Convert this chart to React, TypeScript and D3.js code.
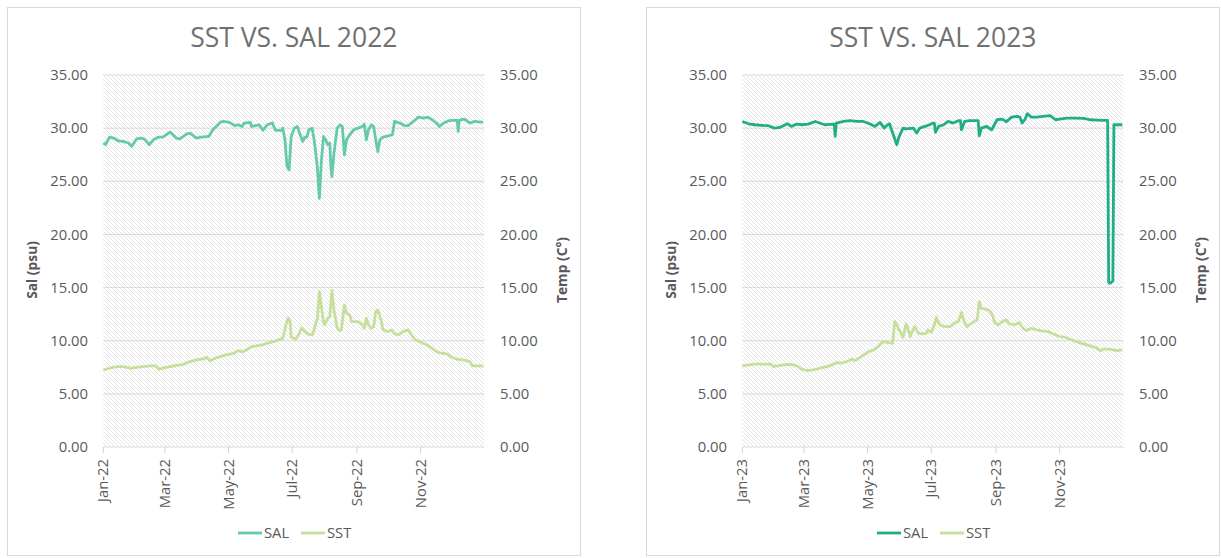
import React from 'react';
import * as d3 from 'd3';

// ---- data (day offset from Jan 1, value) ----
const sal2022Day = [0,2,6,10,14,19,24,27,32,37,40,44,48,53,57,64,70,73,80,83,89,94,101,105,112,115,121,126,129,133,135,141,142,147,149,153,157,162,165,171,172,174,176,178,180,183,186,188,191,193,195,197,200,202,203,205,207,209,211,213,215,217,218,219,221,224,227,229,231,233,236,240,244,248,250,252,254,257,259,261,263,265,268,273,277,279,284,289,292,295,299,302,307,311,315,319,322,326,331,335,339,340,341,345,348,351,356,361,364];
const sal2022 = [28.6,28.44,29.16,29.07,28.81,28.75,28.6,28.28,29.0,29.07,28.9,28.44,28.9,29.16,29.16,29.63,29.07,28.97,29.47,29.54,29.07,29.16,29.22,29.85,30.54,30.63,30.54,30.23,30.32,30.16,30.48,30.54,30.16,30.26,30.32,29.79,30.32,30.48,29.79,29.79,30.0,28.9,26.4,26.08,29.22,30.0,30.16,29.54,28.75,29.16,29.16,29.85,30.0,28.9,28.12,26.4,23.4,27.0,29.22,28.9,28.44,28.6,26.4,25.45,27.65,30.0,30.32,30.16,27.5,28.9,29.38,29.85,30.0,30.16,30.38,28.9,29.85,30.32,30.16,28.9,27.8,28.9,29.16,29.28,29.38,30.63,30.48,30.23,30.23,30.48,30.79,31.04,30.95,31.04,30.79,30.48,30.16,30.48,30.7,30.73,30.73,29.7,30.73,30.85,30.73,30.48,30.63,30.57,30.57];

const sst2022Day = [0,6,13,19,26,32,38,45,50,53,57,64,70,77,83,89,96,99,102,107,112,118,125,129,133,137,142,147,152,157,163,168,172,175,177,179,180,184,187,190,193,196,200,202,204,205,207,209,211,212,215,217,219,221,224,226,228,231,233,236,238,241,244,248,250,252,254,257,259,261,263,266,268,273,276,279,283,287,292,295,299,303,310,315,319,324,329,334,339,345,351,354,359,364];
const sst2022 = [7.25,7.41,7.56,7.56,7.41,7.5,7.56,7.63,7.63,7.31,7.41,7.56,7.69,7.78,8.04,8.19,8.29,8.44,8.1,8.35,8.51,8.66,8.82,9.07,8.95,9.13,9.45,9.51,9.6,9.76,9.92,10.08,10.23,11.49,12.11,11.8,10.39,10.14,10.55,11.17,10.86,10.64,10.55,11.02,11.8,11.96,14.63,13.21,11.65,11.49,12.11,12.27,14.72,12.9,11.17,10.95,11.02,13.37,12.59,12.43,11.8,11.8,11.8,11.49,11.17,12.11,11.49,11.17,11.33,12.74,12.9,11.96,11.02,10.86,11.02,10.64,10.55,10.86,11.02,10.55,10.08,9.92,9.6,9.29,8.98,8.82,8.76,8.44,8.25,8.19,8.04,7.63,7.63,7.63];

const sal2023Day = [0,6,12,19,25,31,36,43,47,52,57,63,70,74,79,87,88,89,90,97,103,110,116,122,127,132,136,138,141,145,148,150,154,157,164,167,170,177,183,184,185,188,193,197,202,207,209,210,213,218,225,226,227,229,234,239,244,249,253,258,263,266,268,271,273,277,282,288,295,300,304,311,320,327,333,340,346,350,351,352,355,356,364];
const sal2023 = [30.63,30.41,30.32,30.26,30.23,30.0,30.07,30.41,30.16,30.38,30.32,30.38,30.63,30.48,30.32,30.38,30.38,29.22,30.48,30.63,30.7,30.63,30.63,30.41,30.16,30.54,30.0,30.23,30.41,29.28,28.44,29.16,30.0,29.94,30.0,29.54,30.0,30.23,30.48,30.48,29.6,30.16,30.32,30.63,30.48,30.7,30.7,29.85,30.63,30.7,30.7,30.7,29.28,30.0,30.16,29.85,30.79,30.85,30.6,31.04,31.1,31.04,30.48,30.85,31.36,31.04,31.04,31.1,31.17,30.79,30.85,30.95,30.95,30.92,30.79,30.76,30.73,30.73,15.5,15.4,15.6,30.32,30.32];

const sst2023Day = [0,7,14,20,27,30,36,43,49,52,57,63,68,74,81,86,90,94,100,105,108,113,118,121,126,130,135,140,144,146,148,151,154,157,158,161,163,165,169,173,176,178,181,184,186,188,191,195,199,204,207,210,212,215,219,223,225,227,229,233,236,239,242,245,249,253,256,261,265,269,272,277,282,287,293,298,304,309,314,320,327,333,340,343,346,352,359,364];
const sst2023 = [7.63,7.72,7.82,7.78,7.82,7.56,7.69,7.78,7.72,7.63,7.31,7.19,7.25,7.41,7.56,7.72,7.94,7.88,8.04,8.25,8.13,8.44,8.76,8.98,9.13,9.45,9.92,9.82,9.76,11.8,11.49,10.86,10.33,11.58,11.33,10.39,10.86,11.33,10.7,10.64,10.7,11.02,10.77,11.49,12.21,11.65,11.39,11.33,11.33,11.71,11.8,12.65,11.96,11.33,11.58,11.86,11.96,13.68,13.06,12.96,12.9,12.59,11.65,11.49,11.8,11.96,11.58,11.49,11.71,11.17,10.95,11.17,11.02,10.92,10.86,10.64,10.39,10.33,10.14,9.92,9.7,9.51,9.29,9.07,9.2,9.2,9.07,9.13];

const yTicks = [0, 5, 10, 15, 20, 25, 30, 35];
const seriesNames = ['SAL', 'SST'];
const years = [2022, 2023];
const salColors = ['#67C9AB', '#21AE86'];
const sstColor = '#C6DF9C';

const FONT = "'Open Sans', 'Noto Sans', sans-serif";
const TEXT = '#595959';

type ChartProps = {
  year: number;
  offsetX: number;
  salDay: number[];
  salVal: number[];
  sstDay: number[];
  sstVal: number[];
  salColor: string;
  idx: number;
};

function Chart({ year, offsetX, salDay, salVal, sstDay, sstVal, salColor, idx }: ChartProps) {
  const left = 103.3, right = 484.3, top = 75, bottom = 447;
  const x = d3.scaleTime().domain([new Date(year, 0, 1), new Date(year + 1, 0, 1)]).range([left, right]);
  const y = d3.scaleLinear().domain([0, 35]).range([bottom, top]);
  const toDate = (d: number) => new Date(year, 0, 1 + d);
  const line = d3.line<[number, number]>().x(p => x(toDate(p[0]))).y(p => y(p[1]));
  const salPts = salDay.map((d, i) => [d, salVal[i]] as [number, number]);
  const sstPts = sstDay.map((d, i) => [d, sstVal[i]] as [number, number]);
  const xTicks = d3.timeMonth.every(2)!.range(new Date(year, 0, 1), new Date(year, 11, 31));
  const fmt = d3.timeFormat('%b-%y');
  const fmtY = d3.format('.2f');
  const cx = (left + right) / 2;
  const pid = `hatch${idx}`;
  return (
    <g transform={`translate(${offsetX},0)`}>
      <defs>
        <pattern id={pid} patternUnits="userSpaceOnUse" width={4} height={4}>
          <rect width={4} height={4} fill="#ffffff" />
          <path d="M-1,-1 L5,5 M-1,3 L1,5 M3,-1 L5,1" stroke="#e3e3e3" strokeWidth={1} />
        </pattern>
      </defs>
      <rect x={7.5} y={7.5} width={573} height={548} fill="#ffffff" stroke="#d9d9d9" strokeWidth={1} />
      <text x={cx} y={47} textAnchor="middle" fontFamily={FONT} fontSize={26.5} fill="#707070">
        {`SST VS. SAL ${year}`}
      </text>
      <rect x={left} y={top} width={right - left} height={bottom - top} fill={`url(#${pid})`} />
      {yTicks.map(t => (
        <line key={t} x1={left} x2={right} y1={y(t)} y2={y(t)} stroke="#d9d9d9" strokeWidth={1} />
      ))}
      {xTicks.map((d, i) => (
        <line key={i} x1={x(d)} x2={x(d)} y1={bottom} y2={bottom + 6} stroke="#d0d0d0" strokeWidth={1} />
      ))}
      {yTicks.map(t => (
        <text key={'l' + t} x={88} y={y(t)} dy="0.35em" textAnchor="end" fontFamily={FONT} fontSize={14.8} fill={TEXT}>{fmtY(t)}</text>
      ))}
      {yTicks.map(t => (
        <text key={'r' + t} x={500} y={y(t)} dy="0.35em" textAnchor="start" fontFamily={FONT} fontSize={14.8} fill={TEXT}>{fmtY(t)}</text>
      ))}
      {xTicks.map((d, i) => (
        <text key={'x' + i} transform={`translate(${x(d)},459) rotate(-90)`} dy="0.35em" textAnchor="end" fontFamily={FONT} fontSize={14.8} fill={TEXT}>{fmt(d)}</text>
      ))}
      <text transform={`translate(32,270) rotate(-90)`} dy="0.35em" textAnchor="middle" fontFamily={FONT} fontSize={13.8} fontWeight="bold" fill={TEXT}>Sal (psu)</text>
      <text transform={`translate(562,270) rotate(-90)`} dy="0.35em" textAnchor="middle" fontFamily={FONT} fontSize={13.8} fontWeight="bold" fill={TEXT}>Temp (C°)</text>
      <path d={line(salPts) || ''} fill="none" stroke={salColor} strokeWidth={2.8} strokeLinejoin="round" />
      <path d={line(sstPts) || ''} fill="none" stroke={sstColor} strokeWidth={2.8} strokeLinejoin="round" />
      <g fontFamily={FONT} fontSize={14.8} fill={TEXT}>
        <line x1={238} x2={262} y1={533} y2={533} stroke={salColor} strokeWidth={2.8} />
        <text x={264} y={533} dy="0.35em">{seriesNames[0]}</text>
        <line x1={301} x2={325} y1={533} y2={533} stroke={sstColor} strokeWidth={2.8} />
        <text x={327} y={533} dy="0.35em">{seriesNames[1]}</text>
      </g>
    </g>
  );
}

export default function App() {
  return (
    <svg width={1221} height={558} style={{ position: 'absolute', left: 0, top: 0, background: '#ffffff' }}>
      <rect width={1221} height={558} fill="#ffffff" />
      <Chart year={years[0]} offsetX={0} idx={0} salDay={sal2022Day} salVal={sal2022} sstDay={sst2022Day} sstVal={sst2022} salColor={salColors[0]} />
      <Chart year={years[1]} offsetX={639} idx={1} salDay={sal2023Day} salVal={sal2023} sstDay={sst2023Day} sstVal={sst2023} salColor={salColors[1]} />
    </svg>
  );
}
